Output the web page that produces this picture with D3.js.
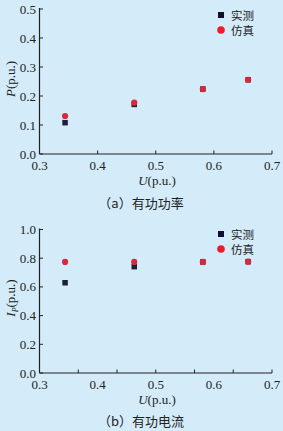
<!DOCTYPE html>
<html><head><meta charset="utf-8">
<script src="https://cdn.jsdelivr.net/npm/d3@7"></script>
<style>
html,body{margin:0;padding:0;background:#d4ecf9;}
svg{display:block;}
text{fill:#222;}
</style></head>
<body>
<script>
const U = [0.344, 0.463, 0.581, 0.659];
const P_meas = [0.108, 0.171, 0.224, 0.256];
const P_sim = [0.131, 0.177, 0.224, 0.256];
const I_meas = [0.629, 0.741, 0.774, 0.776];
const I_sim = [0.774, 0.774, 0.774, 0.776];
const xTickLabels = [0.3, 0.4, 0.5, 0.6, 0.7];
const pTicks = [0.0, 0.1, 0.2, 0.3, 0.4, 0.5];
const iTicks = [0.0, 0.2, 0.4, 0.6, 0.8, 1.0];
const legendLabels = ["实测", "仿真"];

const W = 283, H = 431;
const svg = d3.select("body").append("svg").attr("width", W).attr("height", H);
svg.append("rect").attr("width", W).attr("height", H).attr("fill", "#d4ecf9");

const serif = "'Liberation Serif','DejaVu Serif',serif";
const cjk = "'Noto Sans CJK SC',sans-serif";
const axisColor = "#222";

function panel(cfg) {
  const g = svg.append("g");
  const x = d3.scaleLinear().domain([0.3, 0.7]).range([39.5, 272]);
  const y = d3.scaleLinear().domain(cfg.yDomain).range([cfg.y0, cfg.y1]);

  g.append("line").attr("x1", x(0.3)).attr("x2", x(0.3)).attr("y1", y(cfg.yDomain[0])).attr("y2", y(cfg.yDomain[1]) - 1)
    .attr("stroke", axisColor).attr("stroke-width", 1.2);
  g.append("line").attr("x1", x(0.3)).attr("x2", x(0.7)).attr("y1", y(cfg.yDomain[0])).attr("y2", y(cfg.yDomain[0]))
    .attr("stroke", axisColor).attr("stroke-width", 1.2);

  cfg.yTicks.forEach(t => {
    g.append("line").attr("x1", x(0.3)).attr("x2", x(0.3) + 3.5).attr("y1", y(t)).attr("y2", y(t))
      .attr("stroke", axisColor).attr("stroke-width", 1);
    g.append("text").attr("x", 36).attr("y", y(t) + 4.5).attr("text-anchor", "end")
      .attr("font-family", serif).attr("font-size", 13).text(t.toFixed(1));
  });
  cfg.xTickMarks.forEach(t => {
    g.append("line").attr("x1", x(t)).attr("x2", x(t)).attr("y1", y(cfg.yDomain[0])).attr("y2", y(cfg.yDomain[0]) - 3.5)
      .attr("stroke", axisColor).attr("stroke-width", 1);
  });
  xTickLabels.forEach(t => {
    g.append("text").attr("x", x(t)).attr("y", y(cfg.yDomain[0]) + 16).attr("text-anchor", "middle")
      .attr("font-family", serif).attr("font-size", 13).text(t.toFixed(1));
  });

  const xt = g.append("text").attr("x", 157).attr("y", y(cfg.yDomain[0]) + 31).attr("text-anchor", "middle")
    .attr("font-family", serif).attr("font-size", 13);
  xt.append("tspan").attr("font-style", "italic").text("U");
  xt.append("tspan").text("(p.u.)");

  const yt = g.append("text").attr("transform", `translate(15,${cfg.yLabelY}) rotate(-90)`).attr("text-anchor", "middle")
    .attr("font-family", serif).attr("font-size", 13);
  yt.append("tspan").attr("font-style", "italic").text(cfg.yName);
  if (cfg.ySub) yt.append("tspan").attr("font-style", "italic").attr("font-size", 8).attr("dy", 3).text(cfg.ySub);
  yt.append("tspan").attr("dy", cfg.ySub ? -3 : 0).text("(p.u.)");

  g.append("text").attr("x", 141).attr("y", cfg.captionY).attr("text-anchor", "middle")
    .attr("font-family", cjk).attr("font-size", 13).text(cfg.caption);

  const s = 5.5;
  g.selectAll(".m").data(U.map((u, i) => [u, cfg.meas[i]])).enter().append("rect")
    .attr("x", d => x(d[0]) - s / 2).attr("y", d => y(d[1]) - s / 2).attr("width", s).attr("height", s)
    .attr("fill", "#1b1f3b");
  g.selectAll(".s").data(U.map((u, i) => [u, cfg.sim[i]])).enter().append("circle")
    .attr("cx", d => x(d[0])).attr("cy", d => y(d[1])).attr("r", 3.1).attr("fill", "#d8283a");

  const ly = cfg.legendY;
  g.append("rect").attr("x", 218).attr("y", ly - 3).attr("width", 6).attr("height", 6).attr("fill", "#0d1030");
  g.append("circle").attr("cx", 221).attr("cy", ly + 15).attr("r", 3.8).attr("fill", "#ee1c2a");
  g.append("text").attr("x", 231).attr("y", ly + 4.5).attr("font-family", cjk).attr("font-size", 11.5).text(legendLabels[0]);
  g.append("text").attr("x", 231).attr("y", ly + 19.5).attr("font-family", cjk).attr("font-size", 11.5).text(legendLabels[1]);
}

panel({
  yDomain: [0, 0.5], y0: 154, y1: 9, yTicks: pTicks,
  xTickMarks: [0.4, 0.5, 0.6, 0.7],
  meas: P_meas, sim: P_sim, yName: "P", ySub: null, yLabelY: 79,
  caption: "（a）有功功率", captionY: 208, legendY: 15
});
panel({
  yDomain: [0, 1.0], y0: 373, y1: 229.5, yTicks: iTicks,
  xTickMarks: d3.range(1, 7).map(k => 0.3 + k * 0.4 / 6),
  meas: I_meas, sim: I_sim, yName: "I", ySub: "P", yLabelY: 298,
  caption: "（b）有功电流", captionY: 426, legendY: 234
});
</script>
</body></html>
